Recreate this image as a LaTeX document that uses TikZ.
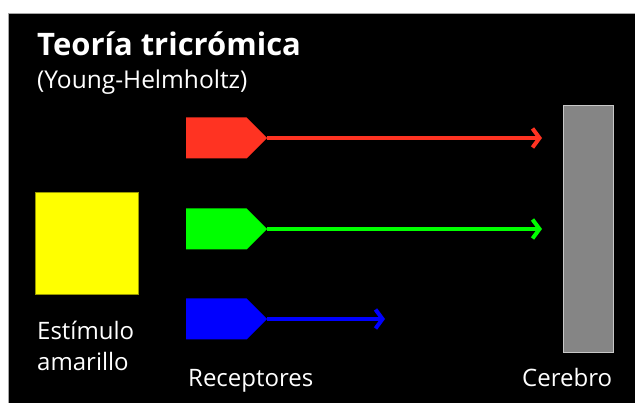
\documentclass[tikz,border=0pt]{standalone}
\usepackage{fontspec}
\setmainfont{Open Sans}
\usetikzlibrary{positioning,shapes.symbols,arrows.meta}

\definecolor{recred}{HTML}{FF3322}
\definecolor{recgreen}{HTML}{00FF00}
\definecolor{recblue}{HTML}{0000FF}
\definecolor{stimyellow}{HTML}{FFFF00}
\definecolor{braingray}{HTML}{858585}
\definecolor{brainedge}{HTML}{C8C8C8}

\begin{document}
\begin{tikzpicture}[
    x=1pt, y=-1pt,
    receptor/.style={signal, signal to=east, minimum width=81pt, minimum height=41pt, inner sep=0pt, anchor=west},  % Style for the receptors
    signalline/.style={line width=3.5pt, -{Straight Barb[length=7pt,width=19pt,line width=4pt]}},              % Style for the signal arrows
    label/.style={text=white, font=\fontsize{24}{28}\selectfont, anchor=base west, inner sep=0pt}              % Style for the texts
    ]

    % Background and black panel
    \useasboundingbox (0,0) rectangle (635,403);
    \fill[white] (0,0) rectangle (635,403);
    \draw[fill=black, draw=gray!70, line width=1pt] (8,13.5) rectangle (640,410);

    % Title
    \node[label, font=\bfseries\fontsize{31}{34}\selectfont] (title) at (37,56) {Teoría tricrómica};
    \node[label, font=\fontsize{24.5}{28}\selectfont] (subtitle) at (37,89) {(Young-Helmholtz)};

    % Stimulus
    \node[fill=stimyellow, draw=stimyellow!60!black, minimum width=103pt, minimum height=102pt, inner sep=0pt] (stim) at (86.5,243) {};
    \node[label] (stimA) at (37,340) {Estímulo};
    \node[label] (stimB) at (37,371) {amarillo};

    % Receptors
    \node[receptor, fill=recred] (R) at (186,138) {};
    \node[receptor, fill=recgreen] (G) at (186,229) {};
    \node[receptor, fill=recblue] (B) at (186,319) {};
    \node[label] (recep) at (188,387) {Receptores};

    % Brain
    \node[fill=braingray, draw=brainedge, line width=1.5pt, minimum width=50pt, minimum height=247pt, inner sep=0pt] (brain) at (588.5,229) {};
    \node[label] (cerebro) at (522,387) {Cerebro};

    % End points of the signals
    \coordinate (Rend) at (542,138);
    \coordinate (Gend) at (542,229);
    \coordinate (Bend) at (385,319);

    % Signals to the brain
    \draw[signalline, recred] (R.east) -- (Rend);
    \draw[signalline, recgreen] (G.east) -- (Gend);
    \draw[signalline, recblue] (B.east) -- (Bend);

\end{tikzpicture}
\end{document}
